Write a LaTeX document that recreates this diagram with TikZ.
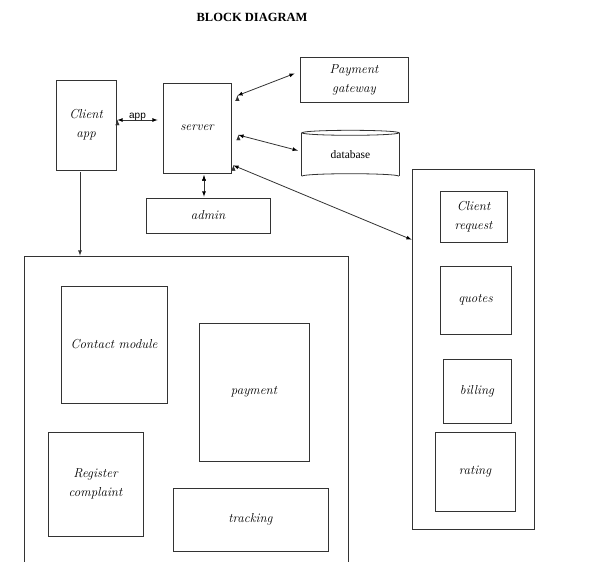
\documentclass[tikz,border=0pt]{standalone}
\usepackage{fontspec}
\newfontfamily\titlefont{Liberation Serif}
\newfontfamily\arialfont{Liberation Sans}
\usepackage{tikz}

\begin{document}
\begin{tikzpicture}[x=1pt, y=-1pt, >=latex, every node/.style={rectangle, inner sep=0pt, align=center, font=\fontsize{13}{19}\selectfont\itshape}, line/.style={draw=black!80, line width=0.8pt}, box/.style={draw=black!80, line width=0.8pt}]
				\useasboundingbox (0,0) rectangle (605,562);
				\clip (0,0) rectangle (605,562);
				
				\node[font=\fontsize{12.5}{14}\selectfont\titlefont\bfseries] (title) at (252,17){BLOCK DIAGRAM};
				
				\node[box, minimum width=60, minimum height=90] (client) at (86,125){Client\\app};
				\node[box, minimum width=68, minimum height=90] (server) at (197,128){server};
				\node[box, minimum width=108, minimum height=45] (gateway) at (354,79.5){Payment\\gateway};
				\node[minimum width=97, minimum height=43, font=\fontsize{11.5}{13}\selectfont\titlefont] (db) at (350.5,154.5){database};
				\node[box, minimum width=124, minimum height=35] (admin) at (208,215.5){admin};
				
				\path[line] (db.north west) -- (db.south west);
				\path[line] (db.north east) -- (db.south east);
				\path[line] (db.north) ellipse (48.5 and 2.5);
				\path[line] (db.south west) arc (180:360:48.5 and 2.5);
				
				\node[box, minimum width=324, minimum height=330] (clientmod) at (186,421){};
				\node[box, minimum width=106, minimum height=117] (contact) at (114,344.5){Contact module};
				\node[box, minimum width=110, minimum height=138] (payment) at (254,392){payment};
				\node[box, minimum width=95, minimum height=104] (register) at (95.5,484){Register\\complaint};
				\node[box, minimum width=155, minimum height=63] (tracking) at (250.5,519.5){tracking};
				
				\node[box, minimum width=122, minimum height=360] (servmod) at (473,349){};
				\node[box, minimum width=67, minimum height=51] (request) at (473.5,216.5){Client\\request};
				\node[box, minimum width=71, minimum height=68] (quotes) at (475.5,300){quotes};
				\node[box, minimum width=68, minimum height=64] (billing) at (477,391){billing};
				\node[box, minimum width=80, minimum height=79] (rating) at (475,471.5){rating};
				
				\path[line, <->] ([xshift=1]client.east |- 0,120) edge node[above=-1pt, font=\fontsize{10}{12}\selectfont\arialfont]{app} ([xshift=-5]server.west |- 0,120);
				\path[line, <->] ([shift={(6,13)}]server.north east) edge ([shift={(-5,-6)}]gateway.west);
				\path[line, <->] ([shift={(7,7)}]server.east) edge ([shift={(-4,-4)}]db.west);
				\path[line, <->] ([xshift=7,yshift=-2]server.south) edge ([xshift=-4,yshift=1]admin.north);
				\path[line, <->] ([shift={(2,-8)}]server.south east) edge ([shift={(0,71)}]servmod.north west);
				\draw[line, ->] ([xshift=-6,yshift=-2]client.south) -- ([xshift=-6]client.south |- clientmod.north);
				\end{tikzpicture}
\end{document}
